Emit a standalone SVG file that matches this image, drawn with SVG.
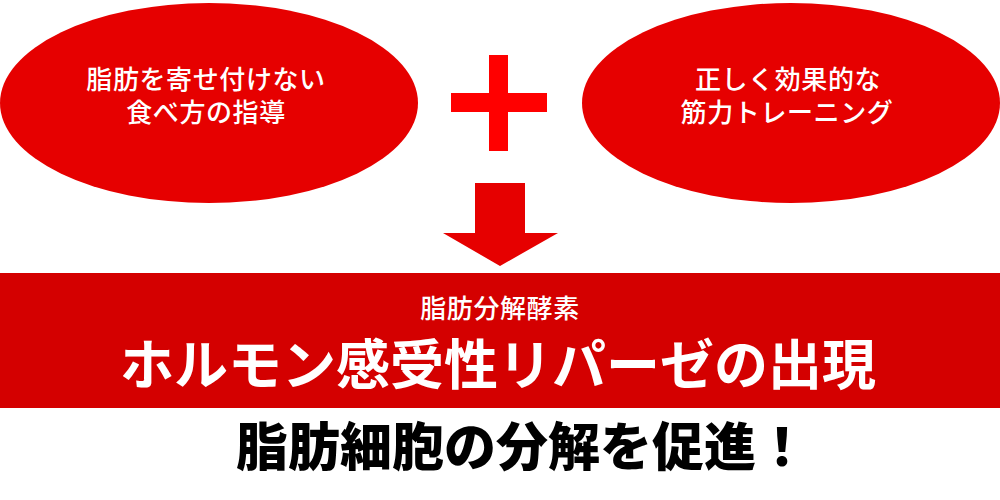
<svg xmlns="http://www.w3.org/2000/svg" width="1000" height="500" viewBox="0 0 1000 500">
  <style>
    .node-shape { fill: #e60000; }
    .label { font-family: "Noto Sans CJK JP", "Noto Sans", sans-serif; fill: #ffffff; text-anchor: middle; }
    .small { font-size: 26px; font-weight: 500; letter-spacing: 0.6px; }
    .title { font-size: 54px; font-weight: 700; }
    .result { font-family: "Noto Sans CJK JP", "Noto Sans", sans-serif; font-size: 52px; font-weight: 900; fill: #000000; }
  </style>
  <rect width="1000" height="500" fill="#ffffff"/>

  <g id="node-diet">
    <ellipse class="node-shape" cx="209" cy="103" rx="209" ry="100"/>
    <text class="label small"><tspan x="206" y="89">脂肪を寄せ付けない</tspan><tspan x="206" y="122">食べ方の指導</tspan></text>
  </g>

  <g id="node-training">
    <ellipse class="node-shape" cx="791" cy="103" rx="209" ry="100"/>
    <text class="label small"><tspan x="788" y="89">正しく効果的な</tspan><tspan x="787" y="122">筋力トレーニング</tspan></text>
  </g>

  <g id="connectors">
    <g id="plus">
      <rect x="489" y="55" width="19" height="96" fill="#ff0000"/>
      <rect x="451" y="93" width="96" height="19" fill="#ff0000"/>
    </g>
    <g id="arrow-down">
      <polygon points="475,183 525,183 525,233 558,233 500,266 443,233 475,233" fill="#e60000"/>
    </g>
  </g>

  <g id="node-lipase">
    <rect x="0" y="273" width="1000" height="135" fill="#d40000"/>
    <text class="label small" x="500" y="318">脂肪分解酵素</text>
    <text class="label title" x="498" y="385">ホルモン感受性リパーゼの出現</text>
  </g>

  <g id="node-result">
    <text class="result" x="236" y="466">脂肪細胞の分解を促進！</text>
  </g>
</svg>
